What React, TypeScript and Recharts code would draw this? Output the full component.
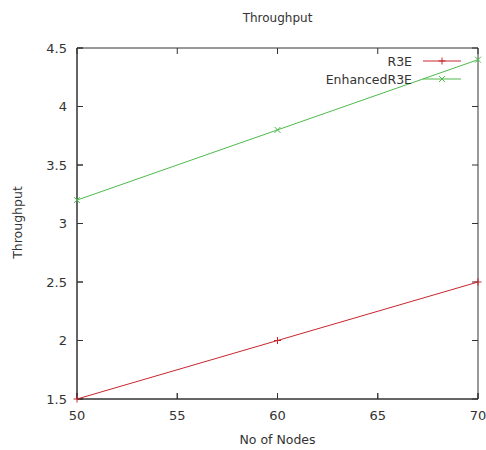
import React from "react";
import { LineChart, Line, XAxis, YAxis, ReferenceLine, CartesianGrid } from "recharts";

const nodes = [50, 60, 70];
const r3e = [1.5, 2, 2.5];
const enhancedR3e = [3.2, 3.8, 4.4];
const xTicks = [50, 55, 60, 65, 70];
const yTicks = [1.5, 2, 2.5, 3, 3.5, 4, 4.5];

const data = nodes.map((n, i) => ({ nodes: n, r3e: r3e[i], enhanced: enhancedR3e[i] }));

const RED = "#c8262e";
const GREEN = "#4cbb4c";
const AXIS = "#333";
const FONT = "'DejaVu Sans', sans-serif";
const TICK = 6;

const PlusDot = (props: any) => {
  const { cx, cy } = props;
  return <path d={`M${cx - 3.5},${cy}H${cx + 3.5}M${cx},${cy - 3.5}V${cy + 3.5}`} stroke={RED} strokeWidth={1} />;
};

const CrossDot = (props: any) => {
  const { cx, cy } = props;
  return (
    <path
      d={`M${cx - 3},${cy - 3}L${cx + 3},${cy + 3}M${cx - 3},${cy + 3}L${cx + 3},${cy - 3}`}
      stroke={GREEN}
      strokeWidth={1}
    />
  );
};

// short inward ticks at both ends of a reference line
const inwardTicks = (props: any) => {
  const { x1, y1, x2, y2 } = props;
  const len = Math.hypot(x2 - x1, y2 - y1) || 1;
  const dx = ((x2 - x1) / len) * TICK;
  const dy = ((y2 - y1) / len) * TICK;
  return (
    <path
      d={`M${x1},${y1}L${x1 + dx},${y1 + dy}M${x2},${y2}L${x2 - dx},${y2 - dy}`}
      stroke={AXIS}
      strokeWidth={1}
      fill="none"
    />
  );
};

// frame of the plot area: only its edges
const frameRows = ({ offset }: any) => [offset.top, offset.top + offset.height];
const frameCols = ({ offset }: any) => [offset.left, offset.left + offset.width];

const legendItems = [
  { name: "R3E", color: RED, marker: "plus" },
  { name: "EnhancedR3E", color: GREEN, marker: "cross" },
];

const KeyBox = () => (
  <svg width={150} height={40} style={{ position: "absolute", left: 312, top: 53, display: "block" }}>
    {legendItems.map((item, i) => {
      const cy = 8 + i * 18;
      return (
        <g key={item.name}>
          <text x={100} y={cy + 4.5} textAnchor="end" fontSize={12.5} fontFamily={FONT} fill={AXIS}>
            {item.name}
          </text>
          <line x1={111} x2={149} y1={cy} y2={cy} stroke={item.color} />
          {item.marker === "plus" ? (
            <path d={`M${126.5},${cy}H${133.5}M130,${cy - 3.5}V${cy + 3.5}`} stroke={item.color} />
          ) : (
            <path d={`M127,${cy - 3}L133,${cy + 3}M127,${cy + 3}L133,${cy - 3}`} stroke={item.color} />
          )}
        </g>
      );
    })}
  </svg>
);

const tickStyle = { fontSize: 13, fontFamily: FONT, fill: AXIS };
const textStyle: React.CSSProperties = { position: "absolute", fontFamily: FONT, color: AXIS, textAlign: "center" };

export default function App() {
  return (
    <div style={{ position: "absolute", left: 0, top: 0, width: 486, height: 450 }}>
      <LineChart width={486} height={450} data={data} margin={{ top: 48, right: 8, left: 0, bottom: 0 }}>
        <CartesianGrid
          stroke={AXIS}
          horizontalCoordinatesGenerator={frameRows}
          verticalCoordinatesGenerator={frameCols}
        />
        <XAxis
          dataKey="nodes"
          type="number"
          domain={[50, 70]}
          ticks={xTicks}
          height={51}
          tickSize={-TICK}
          tickMargin={18}
          tick={tickStyle}
          stroke={AXIS}
        />
        <YAxis
          type="number"
          domain={[1.5, 4.5]}
          ticks={yTicks}
          width={77}
          tickSize={-TICK}
          tickMargin={16}
          tick={tickStyle}
          stroke={AXIS}
        />
        {xTicks.map((v) => (
          <ReferenceLine key={`x${v}`} x={v} shape={inwardTicks} />
        ))}
        {yTicks.map((v) => (
          <ReferenceLine key={`y${v}`} y={v} shape={inwardTicks} />
        ))}
        <Line dataKey="r3e" name="R3E" stroke={RED} strokeWidth={1} dot={<PlusDot />} isAnimationActive={false} />
        <Line
          dataKey="enhanced"
          name="EnhancedR3E"
          stroke={GREEN}
          strokeWidth={1}
          dot={<CrossDot />}
          isAnimationActive={false}
        />
      </LineChart>
      <div style={{ ...textStyle, left: 77, width: 401, top: 11, fontSize: 12 }}>Throughput</div>
      <div style={{ ...textStyle, left: 77, width: 401, top: 432, fontSize: 12.5 }}>No of Nodes</div>
      <div
        style={{
          ...textStyle,
          left: 17 - 50,
          width: 100,
          top: 215,
          fontSize: 12.5,
          transform: "rotate(-90deg)",
        }}
      >
        Throughput
      </div>
      <KeyBox />
    </div>
  );
}
